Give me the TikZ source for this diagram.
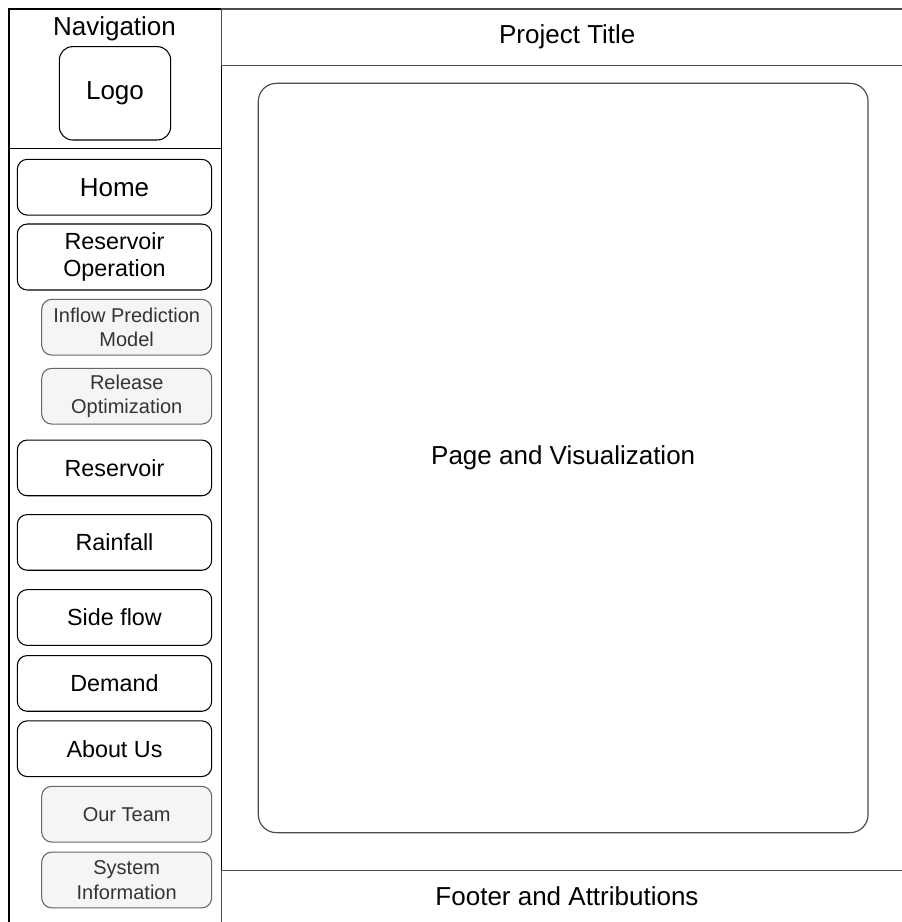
\documentclass[tikz,border=0pt]{standalone}
\usepackage{fontspec}
\setmainfont{Liberation Sans}
\definecolor{grisfond}{HTML}{F5F5F5}
\definecolor{grisbord}{HTML}{666666}
\definecolor{gristexte}{HTML}{333333}
\begin{document}
\begin{tikzpicture}[
    x=0.75pt, y=-0.75pt,   % 1 unité = 1 pixel de l'image
    % Cadres de la page
    cadre/.style={draw=black!70, line width=0.9pt, inner sep=0pt},
    % Boutons du menu
    bouton/.style={draw, line width=0.8pt, rounded corners=7.5pt, inner sep=0pt,
        minimum width=145.8pt, minimum height=41.8pt, align=center,
        font=\fontsize{17.5}{20}\selectfont},
    % Sous-menus grisés
    sousmenu/.style={draw=grisbord, fill=grisfond, text=gristexte, line width=0.8pt,
        rounded corners=7.5pt, inner sep=0pt, minimum width=127.5pt,
        minimum height=41.8pt, align=center, font=\fontsize{15}{18.3}\selectfont},
    grand/.style={font=\fontsize{19.5}{22}\selectfont}
]
\useasboundingbox (0,0) rectangle (901,922);
% Barre de navigation
\node[draw, line width=0.9pt, minimum width=159.3pt, minimum height=690pt, anchor=north west] (nav) at (8.3,8.3) {};
\node[grand, anchor=base] (navtitre) at (114.5,35) {Navigation};
\node[draw, line width=0.8pt, rounded corners=10pt, minimum width=83.5pt, minimum height=70pt, grand] (logo) at (115,93.3) {Logo};
\draw[line width=0.9pt] (8.3,148.3) -- (220.7,148.3);
% Menu
\node[bouton, font=\fontsize{19.5}{22}\selectfont] (accueil) at (114.5,187.2) {Home};
\node[bouton, minimum height=49.5pt] (operation) at (114.5,257) {Reservoir\\Operation};
\node[sousmenu] (prevision) at (126.7,327.2) {Inflow Prediction\\Model};
\node[sousmenu] (lacher) at (126.7,396.2) {Release\\Optimization};
\node[bouton] (reservoir) at (114.5,467.9) {Reservoir};
\node[bouton] (pluie) at (114.5,542.4) {Rainfall};
\node[bouton] (apport) at (114.5,617.5) {Side flow};
\node[bouton] (demande) at (114.5,683.4) {Demand};
\node[bouton] (apropos) at (114.5,748.7) {About Us};
\node[sousmenu] (equipe) at (126.7,814.2) {Our Team};
\node[sousmenu] (systeme) at (126.7,880) {System\\Information};
% En-tête, contenu et pied de page
\node[cadre, minimum width=519pt, minimum height=42.5pt, anchor=north west, grand] (titre) at (220.7,8.3) {Project Title};
\node[cadre, rounded corners=13.5pt, minimum width=457.3pt, minimum height=562pt, grand] (page) at (563.2,458) {Page and Visualization};
\node[cadre, minimum width=519pt, minimum height=45pt, anchor=north west] (pied) at (220.7,870) {};
\node[grand] (attrib) at (567,896.5) {Footer and Attributions};
\end{tikzpicture}
\end{document}
